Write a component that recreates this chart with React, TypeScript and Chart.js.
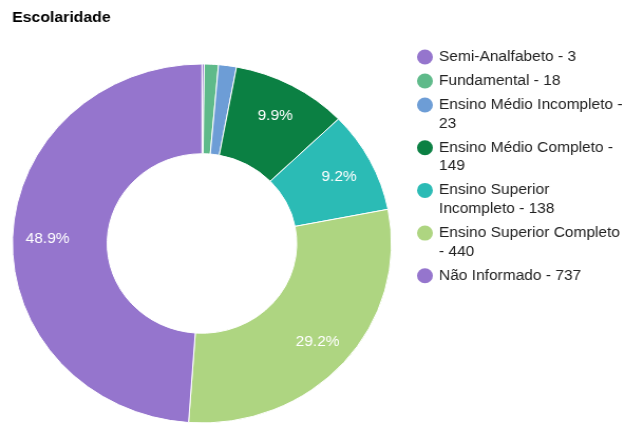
import { useEffect, useRef } from 'react';
import { Chart, registerables } from 'chart.js';

Chart.register(...registerables);

const chartTitle = 'Escolaridade';
const categories = [
  'Semi-Analfabeto',
  'Fundamental',
  'Ensino Médio Incompleto',
  'Ensino Médio Completo',
  'Ensino Superior Incompleto',
  'Ensino Superior Completo',
  'Não Informado',
];
const values = [3, 18, 23, 149, 138, 440, 737];
const colors = ['#9575cd', '#5fba8a', '#6d9dd6', '#0b8043', '#2bbbb5', '#aed581', '#9575cd'];

const W = 592;
const H = 424;
const DISPLAY_W = 625;
const FONT = "'Liberation Sans', Arial, sans-serif";
const FONT_SIZE = 14.7;

function wrapText(ctx: CanvasRenderingContext2D, text: string, maxWidth: number): string[] {
  const words = text.split(' ');
  const lines: string[] = [];
  let line = '';
  for (const w of words) {
    const test = line ? line + ' ' + w : w;
    if (ctx.measureText(test).width > maxWidth && line) {
      lines.push(line);
      line = w;
    } else {
      line = test;
    }
  }
  if (line) lines.push(line);
  return lines;
}

const overlayPlugin = {
  id: 'overlay',
  afterDatasetsDraw(chart: any) {
    const ctx: CanvasRenderingContext2D = chart.ctx;
    const meta = chart.getDatasetMeta(0);
    const total = values.reduce((a, b) => a + b, 0);
    ctx.save();
    // slice labels
    ctx.fillStyle = '#ffffff';
    ctx.font = `${FONT_SIZE}px ${FONT}`;
    ctx.textAlign = 'center';
    ctx.textBaseline = 'middle';
    meta.data.forEach((arc: any, i: number) => {
      const p = values[i] / total;
      if (p < 0.05) return;
      const { x, y, startAngle, endAngle, innerRadius, outerRadius } = arc.getProps(
        ['x', 'y', 'startAngle', 'endAngle', 'innerRadius', 'outerRadius'],
        true
      );
      const mid = (startAngle + endAngle) / 2;
      const r = innerRadius + (outerRadius - innerRadius) * 0.63;
      ctx.fillText((p * 100).toFixed(1) + '%', x + Math.cos(mid) * r, y + Math.sin(mid) * r + 1);
    });
    // title
    ctx.fillStyle = '#000000';
    ctx.font = `bold 15px ${FONT}`;
    ctx.textAlign = 'left';
    ctx.textBaseline = 'alphabetic';
    ctx.fillText(chartTitle, 11.5, 22);
    // legend
    ctx.font = `${FONT_SIZE}px ${FONT}`;
    ctx.textBaseline = 'middle';
    const markerX = 402.5;
    const textX = 415.8;
    const lineH = 18.7;
    const gap = 5.3;
    let y = 57;
    categories.forEach((c, i) => {
      const lines = wrapText(ctx, `${c} - ${values[i]}`, 177);
      ctx.fillStyle = colors[i];
      ctx.beginPath();
      ctx.arc(markerX, y, 7.5, 0, Math.PI * 2);
      ctx.fill();
      ctx.fillStyle = '#222222';
      lines.forEach((ln, k) => ctx.fillText(ln, textX, y + k * lineH));
      y += lines.length * lineH + gap;
    });
    ctx.restore();
  },
};

export default function App() {
  const ref = useRef<HTMLCanvasElement>(null);
  useEffect(() => {
    if (!ref.current) return;
    const chart = new Chart(ref.current, {
      type: 'doughnut',
      data: {
        labels: categories,
        datasets: [
          {
            data: values,
            backgroundColor: colors,
            borderColor: '#ffffff',
            borderWidth: 1,
          },
        ],
      },
      options: {
        responsive: false,
        animation: false,
        events: [],
        cutout: '50%',
        layout: { padding: { left: 11.3, right: 220.7, top: 63.5, bottom: 0.5 } },
        plugins: {
          legend: { display: false },
          title: { display: false },
          tooltip: { enabled: false },
        },
      },
      plugins: [overlayPlugin],
    });
    return () => chart.destroy();
  }, []);
  return (
    <div style={{ position: 'fixed', left: 0, top: 0, width: DISPLAY_W, height: H, background: '#fff' }}>
      <canvas
        ref={ref}
        width={W}
        height={H}
        style={{ width: DISPLAY_W + 'px', height: H + 'px', display: 'block' }}
      />
    </div>
  );
}
